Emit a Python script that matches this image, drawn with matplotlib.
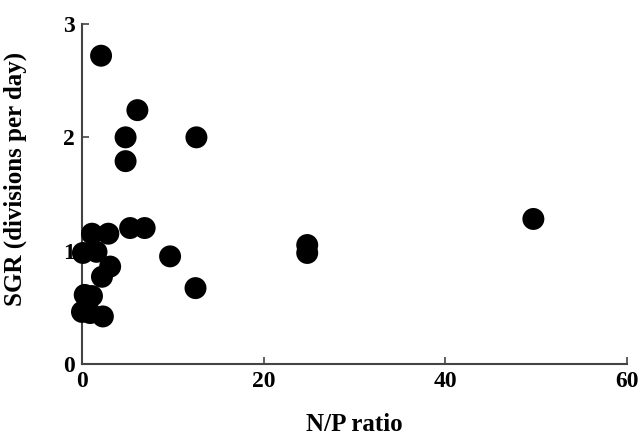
import matplotlib
matplotlib.use("Agg")
import matplotlib.pyplot as plt

np_ratio = [2.1, 6.1, 4.8, 4.8, 12.6, 49.7, 24.8, 24.8, 5.3, 6.9, 9.7, 12.5,
            1.1, 2.9, 0.1, 1.6, 3.1, 2.2, 0.3, 1.1, 0.0, 0.9, 2.3]
sgr = [2.72, 2.24, 2.0, 1.79, 2.0, 1.28, 1.05, 0.98, 1.2, 1.2, 0.95, 0.67,
       1.15, 1.15, 0.98, 0.99, 0.86, 0.77, 0.61, 0.6, 0.46, 0.45, 0.42]

xticks = [0, 20, 40, 60]
yticks = [0, 1, 2, 3]

plt.rcParams['font.family'] = ['Liberation Serif', 'DejaVu Serif']
fig = plt.figure(figsize=(6.43, 4.36), dpi=100)
ax = fig.add_axes([0.1275, 0.165, 0.8475, 0.78])
ax.scatter(np_ratio, sgr, s=250, color='black', edgecolors='none', zorder=3, clip_on=False)
ax.set_xlim(0, 60)
ax.set_ylim(0, 3)
ax.set_xticks(xticks)
ax.set_yticks(yticks)
ax.spines['top'].set_visible(False)
ax.spines['right'].set_visible(False)
for s in ['left', 'bottom']:
    ax.spines[s].set_linewidth(1.5)
    ax.spines[s].set_color('#444444')
ax.tick_params(direction='in', length=5, width=1.2, color='#444444', labelsize=17, pad=5)
for lab in ax.get_xticklabels() + ax.get_yticklabels():
    lab.set_fontweight('bold')
ax.set_xlabel('N/P ratio', fontsize=18, fontweight='bold')
ax.set_ylabel('SGR (divisions per day)', fontsize=18, fontweight='bold')
ax.xaxis.set_label_coords(0.5, -0.145)
ax.yaxis.set_label_coords(-0.1, 0.545)
fig.savefig('out.png', dpi=100)
